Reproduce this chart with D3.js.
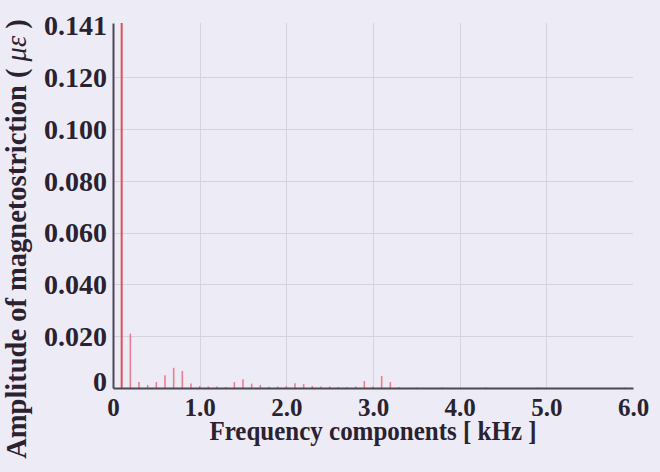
<!DOCTYPE html>
<html>
<head>
<meta charset="utf-8">
<script src="https://cdn.jsdelivr.net/npm/d3@7/dist/d3.min.js"></script>
<style>
  html, body { margin: 0; padding: 0; background: #edecf6; }
  svg { display: block; }
  text { font-family: "Liberation Serif", "Times New Roman", serif; font-weight: bold; fill: #2a2230; }
</style>
</head>
<body>
<svg id="chart" width="660" height="472"></svg>
<script>
// Harmonic spectrum of magnetostriction (100 Hz spacing)
const freqs = [0.1, 0.2, 0.3, 0.4, 0.5, 0.6, 0.7, 0.8, 0.9, 1.0,
               1.1, 1.2, 1.3, 1.4, 1.5, 1.6, 1.7, 1.8, 1.9, 2.0,
               2.1, 2.2, 2.3, 2.4, 2.5, 2.6, 2.7, 2.8, 2.9, 3.0,
               3.1, 3.2, 3.3, 3.5, 3.8, 4.3, 4.9, 5.9];
const amplitudes = [0.141, 0.021, 0.0023, 0.0012, 0.0023, 0.0049, 0.0078, 0.0066, 0.0017, 0.0008,
                    0.0006, 0.0006, 0.0004, 0.0023, 0.0034, 0.0017, 0.0012, 0.0005, 0.0006, 0.0007,
                    0.0018, 0.0015, 0.0008, 0.0006, 0.0006, 0.0004, 0.0004, 0.0006, 0.0027, 0.0006,
                    0.0046, 0.0023, 0.0004, 0.0002, 0.0002, 0.0002, 0.0002, 0.0002];
const xTicks = [0, 1, 2, 3, 4, 5, 6];
const xTickLabels = ["0", "1.0", "2.0", "3.0", "4.0", "5.0", "6.0"];
const yTicks = [0, 0.02, 0.04, 0.06, 0.08, 0.10, 0.12, 0.141];
const yTickLabels = ["0", "0.020", "0.040", "0.060", "0.080", "0.100", "0.120", "0.141"];

const svg = d3.select("#chart");
const margin = { left: 113, top: 23, right: 27, bottom: 84 };
const W = 660, H = 472;

const x = d3.scaleLinear().domain([0, 6]).range([margin.left, W - margin.right]);
const y = d3.scaleLinear().domain([0, 0.141]).range([H - margin.bottom, margin.top]);

// grid
const grid = svg.append("g").attr("stroke", "#d4d3de").attr("stroke-width", 1);
grid.selectAll("line.h")
  .data(yTicks.filter(v => v > 0 && v < 0.141))
  .join("line")
  .attr("x1", x(0)).attr("x2", x(6))
  .attr("y1", d => Math.round(y(d)) + 0.5).attr("y2", d => Math.round(y(d)) + 0.5);
grid.selectAll("line.v")
  .data(xTicks.filter(v => v > 0 && v < 6))
  .join("line")
  .attr("y1", y(0)).attr("y2", y(0.141))
  .attr("x1", d => Math.round(x(d)) + 0.5).attr("x2", d => Math.round(x(d)) + 0.5);

// spectrum lines
svg.append("g")
  .selectAll("line")
  .data(freqs.map((f, i) => ({ f, a: amplitudes[i] })))
  .join("line")
  .attr("x1", d => x(d.f)).attr("x2", d => x(d.f))
  .attr("y1", y(0)).attr("y2", d => y(d.a))
  .attr("stroke", (d, i) => i === 0 ? "#e0505a" : "#ec7d8c")
  .attr("stroke-width", (d, i) => i === 0 ? 2 : 1.6);

// axes
const xAxis = d3.axisBottom(x).tickValues(xTicks).tickFormat((d, i) => xTickLabels[i]).tickSize(0).tickPadding(0);
const gx = svg.append("g").attr("transform", `translate(0,${y(0)})`).call(xAxis);
gx.select(".domain").attr("stroke", "#4b4852").attr("stroke-width", 2);
gx.selectAll("text")
  .attr("font-size", 25)
  .style("font-family", "Liberation Serif").style("font-weight", "bold")
  .attr("fill", "#2a2230")
  .attr("y", 28).attr("dy", null);

const yAxis = d3.axisLeft(y).tickValues(yTicks).tickFormat((d, i) => yTickLabels[i]).tickSize(0).tickPadding(6);
const gy = svg.append("g").attr("transform", `translate(${x(0)},0)`).call(yAxis);
gy.select(".domain").attr("stroke", "#4b4852").attr("stroke-width", 2);
gy.selectAll("text")
  .attr("font-size", 28)
  .style("font-family", "Liberation Serif").style("font-weight", "bold")
  .attr("fill", "#2a2230")
  .attr("dy", d => d === 0 ? "0.1em" : d === 0.141 ? "0.4em" : "0.33em");

// titles
svg.append("text")
  .attr("transform", "translate(" + x(3) + ",440) scale(1,1.1)")
  .attr("text-anchor", "middle").attr("font-size", 25)
  .text("Frequency components [ kHz ]");

const yt = svg.append("text")
  .attr("transform", "translate(26,239) rotate(-90)")
  .attr("text-anchor", "middle").attr("font-size", 28.5);
yt.append("tspan").text("Amplitude of magnetostriction ( ");
yt.append("tspan").attr("font-style", "italic").attr("font-weight", "normal").text("με");
yt.append("tspan").text(" )");
</script>
</body>
</html>
